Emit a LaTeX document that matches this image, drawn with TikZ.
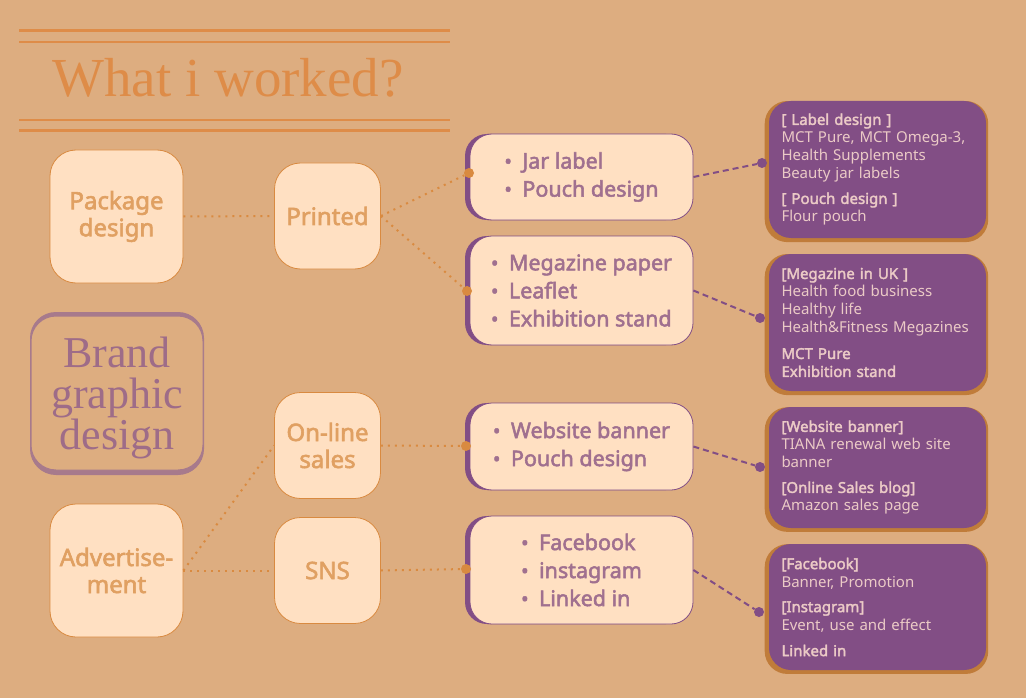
\documentclass[tikz,border=0pt]{standalone}
\usepackage{fontspec}
\setmainfont{Noto Sans}
\newfontfamily\boldsans{Noto Sans}[FakeBold=2.4]
\newfontfamily\seriffont{Liberation Serif}
\usetikzlibrary{shadows}
\definecolor{bg}{HTML}{DDAD80}
\definecolor{rule}{HTML}{DE8C48}
\definecolor{cream}{HTML}{FFE0C2}
\definecolor{boxline}{HTML}{D98A40}
\definecolor{boxtext}{HTML}{E0A062}
\definecolor{plum}{HTML}{824E85}
\definecolor{plumtext}{HTML}{A0708F}
\definecolor{mauve}{HTML}{A77A8C}
\definecolor{mauvetext}{HTML}{9E6C88}
\definecolor{rust}{HTML}{C07C3A}
\definecolor{pinktext}{HTML}{EBCAC6}
\newcommand\itm{\makebox[18pt][l]{\fontsize{20}{20}\selectfont\textbullet}}
\newcommand\hd[1]{{\boldsans #1}}
\begin{document}
\begin{tikzpicture}[x=1pt,y=-1pt,
 catbox/.style={draw=boxline,fill=cream,rounded corners=26pt,text=boxtext,font=\boldsans\fontsize{24}{27}\selectfont,align=center,line width=0.8pt},
 listbox/.style={draw=plum,fill=cream,rounded corners=22pt,text=plumtext,font=\boldsans\fontsize{21.5}{28}\selectfont,align=left,minimum width=223pt,line width=0.8pt,drop shadow={shadow xshift=-5pt,shadow yshift=0pt,fill=plum,opacity=1}},
 infobox/.style={fill=plum,rounded corners=22pt,text=pinktext,font=\fontsize{15}{18}\selectfont,align=left,text width=192pt,inner xsep=12.5pt,general shadow={fill=rust,shadow scale=1.03,shadow xshift=-1pt,shadow yshift=-2pt}},
 odot/.style={circle,fill=boxline,inner sep=0pt,minimum size=10pt},
 pdot/.style={circle,fill=plum,inner sep=0pt,minimum size=10pt},
 dotline/.style={boxline,line width=2pt,dash pattern=on 2pt off 5pt},
 dashline/.style={plum,line width=2pt,dash pattern=on 6pt off 4pt}]
\fill[bg] (0,0) rectangle (1026,698);
% title
\draw[rule,line width=3pt] (19,31) -- (450,31);
\draw[rule,line width=1.2pt] (19,42) -- (450,42);
\draw[rule,line width=1.2pt] (19,120) -- (450,120);
\draw[rule,line width=3pt] (19,131) -- (450,131);
\node[anchor=base,text=rule,font=\seriffont\fontsize{55}{55}\selectfont] (title) at (228,97) {What i worked?};
% brand
\node[fill=mauve,rounded corners=26pt,minimum width=174pt,minimum height=163pt] (brandbg) at (117,393.5) {};
\node[fill=bg,draw=mauve,line width=1pt,rounded corners=25pt,minimum width=172pt,minimum height=154pt] (brand) at (117,393) {};
\node[text=mauvetext,align=center,font=\seriffont\fontsize{44}{41}\selectfont] (brandtxt) at (117,398) {Brand\\graphic\\design};
% categories
\node[catbox,minimum width=133pt,minimum height=133pt] (pack) at (116.5,216.5) {Package\\design};
\node[catbox,minimum size=106pt] (print) at (327.5,216) {Printed};
\node[catbox,minimum size=106pt] (online) at (327.5,445.5) {On-line\\sales};
\node[catbox,minimum width=133pt,minimum height=133pt] (adv) at (116.5,570.5) {Advertise-\\ment};
\node[catbox,minimum size=106pt] (sns) at (327.5,570.5) {SNS};
% lists
\node[listbox,minimum height=86pt] (jar) at (581.5,177) {\itm Jar label\\\itm Pouch design};
\node[listbox,minimum height=109pt] (mag) at (581.5,290.5) {\itm Megazine paper\\\itm Leaflet\\\itm Exhibition stand};
\node[listbox,minimum height=87pt] (web) at (581.5,446.5) {\itm Website banner\\\itm Pouch design};
\node[listbox,minimum height=108pt] (fb) at (581.5,570) {\itm Facebook\\\itm instagram\\\itm Linked in};
% details
\node[infobox,minimum height=137pt] (labelinfo) at (877.5,169.5) {\hd{[ Label design ]}\\MCT Pure, MCT Omega-3,\\Health Supplements\\Beauty jar labels\\[7pt]\hd{[ Pouch design ]}\\Flour pouch};
\node[infobox,minimum height=137pt] (maginfo) at (877.5,322.5) {\hd{[Megazine in UK ]}\\Health food business\\Healthy life\\Health\&Fitness Megazines\\[8pt]\hd{MCT Pure}\\\hd{Exhibition stand}};
\node[infobox,minimum height=121pt] (webinfo) at (877.5,467.5) {\hd{[Website banner]}\\TIANA renewal web site\\banner\\[7pt]\hd{[Online Sales blog]}\\Amazon sales page};
\node[infobox,minimum height=126pt] (snsinfo) at (877.5,607) {\hd{[Facebook]}\\Banner, Promotion\\[7pt]\hd{[Instagram]}\\Event, use and effect\\[8pt]\hd{Linked in}};
% dots
\node[odot] (o1) at (469,173) {};
\node[odot] (o2) at (467,291) {};
\node[odot] (o3) at (466,446) {};
\node[odot] (o4) at (466,569) {};
\node[pdot] (p1) at (762,163) {};
\node[pdot] (p2) at (760,318) {};
\node[pdot] (p3) at (760,467) {};
\node[pdot] (p4) at (759,612) {};
% links
\draw[dotline] (pack.east) -- (print.west);
\draw[dotline] (print.east) -- (o1);
\draw[dotline] (print.east) -- (o2);
\draw[dotline] (adv.east) -- (online.west);
\draw[dotline] (adv.east) -- (sns.west);
\draw[dotline] (online.east) -- (o3);
\draw[dotline] (sns.east) -- (o4);
\draw[dashline] (jar.east) -- (p1);
\draw[dashline] (mag.east) -- (p2);
\draw[dashline] (web.east) -- (p3);
\draw[dashline] (fb.east) -- (p4);
\end{tikzpicture}
\end{document}
